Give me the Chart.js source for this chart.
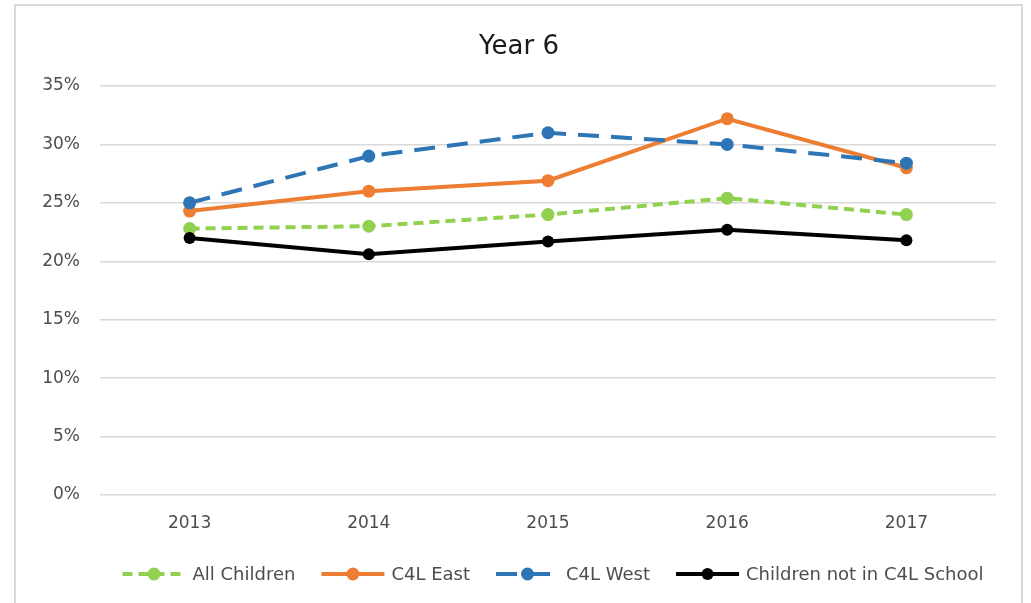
<!DOCTYPE html>
<html>
<head>
<meta charset="utf-8">
<script src="https://cdn.jsdelivr.net/npm/chart.js@4.4.0/dist/chart.umd.min.js"></script>
<style>
  html, body { margin: 0; padding: 0; background: #ffffff; }
  #wrap { width: 1031px; height: 603px; position: relative; }
</style>
</head>
<body>
<div id="wrap"><canvas id="c" width="1031" height="603"></canvas></div>
<script>
// Survey years
const years = ['2013', '2014', '2015', '2016', '2017'];

// Percentage of Year 6 children, by group
const allChildren = [22.8, 23.0, 24.0, 25.4, 24.0];
const c4lEast     = [24.3, 26.0, 26.9, 32.2, 28.0];
const c4lWest     = [25.0, 29.0, 31.0, 30.0, 28.4];
const notInC4L    = [22.0, 20.6, 21.7, 22.7, 21.8];

// Y axis ticks (percent)
const yTicks = [0, 5, 10, 15, 20, 25, 30, 35];

const chartTitle = 'Year 6';
const FONT = '"DejaVu Sans", "Liberation Sans", sans-serif';
const TEXT_GREY = '#4d4d4d';
const GRID_GREY = '#d9d9d9';

// Frame and title
const framePlugin = {
  id: 'frame',
  beforeDraw(chart) {
    const ctx = chart.ctx;
    ctx.save();
    ctx.fillStyle = '#ffffff';
    ctx.fillRect(0, 0, chart.width, chart.height);
    ctx.strokeStyle = GRID_GREY;
    ctx.lineWidth = 2;
    ctx.strokeRect(15, 5, 1007, 640);
    ctx.fillStyle = '#1a1a1a';
    ctx.font = '26px ' + FONT;
    ctx.textAlign = 'center';
    ctx.textBaseline = 'middle';
    ctx.fillText(chartTitle, 519, 47);
    ctx.restore();
  }
};

// Legend: line segment with marker, then label, centred under the plot
const legendPlugin = {
  id: 'lineLegend',
  afterDraw(chart) {
    const ctx = chart.ctx;
    const ds = chart.data.datasets;
    const segW = 63, textGap = 7, itemGap = 26, y = 574;
    ctx.save();
    ctx.font = '18px ' + FONT;
    const widths = ds.map(d => segW + textGap + ctx.measureText(d.label).width);
    const total = widths.reduce((a, b) => a + b, 0) + itemGap * (ds.length - 1);
    let x = (chart.chartArea.left + chart.chartArea.right) / 2 - total / 2 + 5;
    ds.forEach((d, i) => {
      ctx.strokeStyle = d.borderColor;
      ctx.lineWidth = d.borderWidth;
      ctx.setLineDash(d.borderDash || []);
      ctx.beginPath();
      ctx.moveTo(x, y);
      ctx.lineTo(x + segW, y);
      ctx.stroke();
      ctx.setLineDash([]);
      ctx.fillStyle = d.pointBackgroundColor;
      ctx.beginPath();
      ctx.arc(x + segW / 2, y, d.pointRadius, 0, Math.PI * 2);
      ctx.fill();
      ctx.fillStyle = TEXT_GREY;
      ctx.textAlign = 'left';
      ctx.textBaseline = 'middle';
      ctx.fillText(d.label, x + segW + textGap, y + 1);
      x += widths[i] + itemGap;
    });
    ctx.restore();
  }
};

function series(label, data, color, dash, order, radius) {
  return {
    label: label,
    data: data,
    borderColor: color,
    backgroundColor: color,
    pointBackgroundColor: color,
    pointBorderColor: color,
    pointBorderWidth: 0,
    pointRadius: radius,
    pointHoverRadius: radius,
    borderWidth: 4,
    borderDash: dash,
    borderCapStyle: 'butt',
    tension: 0,
    fill: false,
    order: order
  };
}

new Chart(document.getElementById('c'), {
  type: 'line',
  data: {
    labels: years,
    datasets: [
      series('All Children', allChildren, '#92d050', [10, 6], 4, 6.5),
      series('C4L East', c4lEast, '#ed7d31', [], 3, 6.5),
      series('C4L West', c4lWest, '#2e75b6', [21, 12], 2, 6.5),
      series('Children not in C4L School', notInC4L, '#000000', [], 1, 6)
    ]
  },
  options: {
    responsive: false,
    animation: false,
    devicePixelRatio: 1,
    layout: { padding: { left: 20, right: 35, top: 86, bottom: 0 } },
    plugins: {
      legend: { display: false },
      title: { display: false },
      tooltip: { enabled: false }
    },
    scales: {
      x: {
        type: 'category',
        offset: true,
        grid: { display: false, drawTicks: false },
        border: { display: false },
        ticks: {
          color: TEXT_GREY,
          font: { family: FONT, size: 17 },
          padding: 18,
          maxRotation: 0
        },
        afterFit(scale) { scale.height = 108; }
      },
      y: {
        min: 0,
        max: 35,
        afterBuildTicks(scale) { scale.ticks = yTicks.map(v => ({ value: v })); },
        grid: { color: GRID_GREY, lineWidth: 1.5, drawTicks: false },
        border: { display: false },
        ticks: {
          color: TEXT_GREY,
          font: { family: FONT, size: 17 },
          padding: 20,
          callback: v => v + '%'
        },
        afterFit(scale) { scale.width = 80; }
      }
    }
  },
  plugins: [framePlugin, legendPlugin]
});
</script>
</body>
</html>
